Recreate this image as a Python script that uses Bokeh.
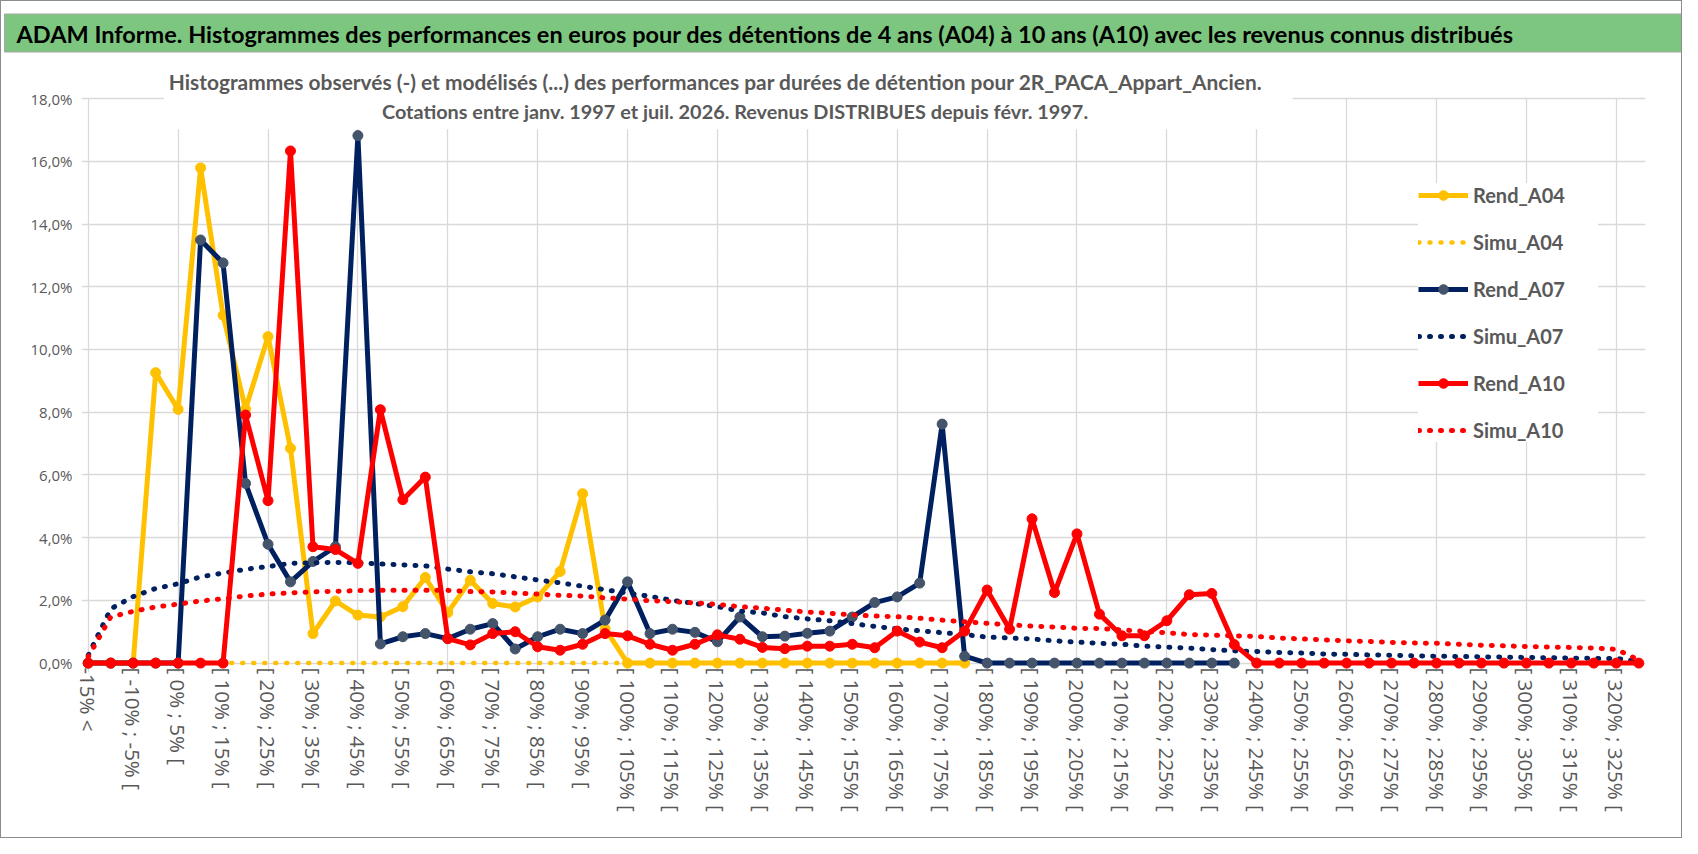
import numpy as np
from bokeh.plotting import figure
from bokeh.models import (FixedTicker, Legend, LegendItem, Label, Title,
                          ColumnDataSource, Range1d)
from bokeh.embed import file_html
from bokeh.resources import INLINE

TITLE = ("ADAM Informe. Histogrammes des performances en euros pour des détentions "
         "de 4 ans (A04) à 10 ans (A10) avec les revenus connus distribués")
SUB1 = ("Histogrammes observés (-) et modélisés (...)  des performances par durées "
        "de détention pour 2R_PACA_Appart_Ancien.")
SUB2 = "Cotations entre janv. 1997 et juil. 2026. Revenus DISTRIBUES depuis févr. 1997."

categories = [
    "-15% <", "[ -15% ; -10% [", "[ -10% ; -5% [", "[ -5% ; 0% [", "[ 0% ; 5% [",
    "[ 5% ; 10% [", "[ 10% ; 15% [", "[ 15% ; 20% [", "[ 20% ; 25% [", "[ 25% ; 30% [",
    "[ 30% ; 35% [", "[ 35% ; 40% [", "[ 40% ; 45% [", "[ 45% ; 50% [", "[ 50% ; 55% [",
    "[ 55% ; 60% [", "[ 60% ; 65% [", "[ 65% ; 70% [", "[ 70% ; 75% [", "[ 75% ; 80% [",
    "[ 80% ; 85% [", "[ 85% ; 90% [", "[ 90% ; 95% [", "[ 95% ; 100% [", "[ 100% ; 105% [",
    "[ 105% ; 110% [", "[ 110% ; 115% [", "[ 115% ; 120% [", "[ 120% ; 125% [", "[ 125% ; 130% [",
    "[ 130% ; 135% [", "[ 135% ; 140% [", "[ 140% ; 145% [", "[ 145% ; 150% [", "[ 150% ; 155% [",
    "[ 155% ; 160% [", "[ 160% ; 165% [", "[ 165% ; 170% [", "[ 170% ; 175% [", "[ 175% ; 180% [",
    "[ 180% ; 185% [", "[ 185% ; 190% [", "[ 190% ; 195% [", "[ 195% ; 200% [", "[ 200% ; 205% [",
    "[ 205% ; 210% [", "[ 210% ; 215% [", "[ 215% ; 220% [", "[ 220% ; 225% [", "[ 225% ; 230% [",
    "[ 230% ; 235% [", "[ 235% ; 240% [", "[ 240% ; 245% [", "[ 245% ; 250% [", "[ 250% ; 255% [",
    "[ 255% ; 260% [", "[ 260% ; 265% [", "[ 265% ; 270% [", "[ 270% ; 275% [", "[ 275% ; 280% [",
    "[ 280% ; 285% [", "[ 285% ; 290% [", "[ 290% ; 295% [", "[ 295% ; 300% [", "[ 300% ; 305% [",
    "[ 305% ; 310% [", "[ 310% ; 315% [", "[ 315% ; 320% [", "[ 320% ; 325% [", "[ 325% ; 330% [",
]

# values in %
rend_a04 = [0, 0, 0, 9.26, 8.09, 15.79, 11.09, 8.1, 10.41, 6.85,
            0.94, 1.98, 1.53, 1.47, 1.8, 2.73, 1.61, 2.64, 1.9, 1.79,
            2.11, 2.92, 5.4, 1.1, 0, 0, 0, 0, 0, 0,
            0, 0, 0, 0, 0, 0, 0, 0, 0, 0]
simu_a04 = [0, 0, 0, 0, 0, 0, 0, 0, 0, 0,
            0, 0, 0, 0, 0, 0, 0, 0, 0, 0,
            0, 0, 0, 0, 0, 0, 0, 0, 0, 0,
            0, 0, 0, 0, 0, 0, 0, 0, 0, 0]
rend_a07 = [0, 0, 0, 0, 0, 13.49, 12.76, 5.73, 3.79, 2.59,
            3.24, 3.71, 16.82, 0.61, 0.84, 0.94, 0.78, 1.08, 1.26, 0.45,
            0.84, 1.08, 0.94, 1.37, 2.59, 0.94, 1.08, 0.98, 0.68, 1.47,
            0.84, 0.86, 0.95, 1.02, 1.47, 1.93, 2.11, 2.55, 7.62, 0.22,
            0, 0, 0, 0, 0, 0, 0, 0, 0, 0,
            0, 0]
simu_a07 = [0.25, 1.73, 2.12, 2.38, 2.53, 2.75, 2.87, 2.99, 3.08, 3.18,
            3.2, 3.21, 3.2, 3.16, 3.13, 3.1, 3.0, 2.91, 2.85, 2.75,
            2.65, 2.56, 2.45, 2.34, 2.23, 2.13, 2.0, 1.9, 1.8, 1.66,
            1.6, 1.48, 1.41, 1.35, 1.26, 1.17, 1.09, 1.03, 0.97, 0.91,
            0.83, 0.8, 0.77, 0.71, 0.67, 0.63, 0.6, 0.54, 0.51, 0.48,
            0.43, 0.39, 0.37, 0.34, 0.32, 0.29, 0.28, 0.26, 0.25, 0.23,
            0.22, 0.21, 0.2, 0.19, 0.18, 0.17, 0.16, 0.15, 0.15, 0.05]
rend_a10 = [0, 0, 0, 0, 0, 0, 0, 7.91, 5.18, 16.33,
            3.71, 3.62, 3.18, 8.08, 5.21, 5.93, 0.78, 0.58, 0.94, 1.0,
            0.52, 0.41, 0.6, 0.94, 0.87, 0.6, 0.41, 0.6, 0.9, 0.76,
            0.5, 0.46, 0.54, 0.54, 0.6, 0.49, 1.02, 0.67, 0.49, 1.02,
            2.33, 1.08, 4.6, 2.25, 4.12, 1.56, 0.87, 0.87, 1.35, 2.18,
            2.22, 0.59, 0, 0, 0, 0, 0, 0, 0, 0,
            0, 0, 0, 0, 0, 0, 0, 0, 0, 0]
simu_a10 = [0.2, 1.47, 1.65, 1.79, 1.88, 1.98, 2.05, 2.14, 2.2, 2.24,
            2.27, 2.29, 2.31, 2.32, 2.32, 2.32, 2.32, 2.28, 2.27, 2.23,
            2.2, 2.16, 2.14, 2.08, 2.04, 1.99, 1.96, 1.92, 1.87, 1.8,
            1.75, 1.69, 1.63, 1.59, 1.54, 1.5, 1.48, 1.43, 1.37, 1.32,
            1.27, 1.22, 1.18, 1.15, 1.11, 1.1, 1.06, 1.01, 0.97, 0.91,
            0.89, 0.87, 0.85, 0.8, 0.77, 0.74, 0.71, 0.69, 0.66, 0.64,
            0.63, 0.6, 0.57, 0.55, 0.53, 0.51, 0.5, 0.48, 0.44, 0.1]

y_ticks = [0, 2, 4, 6, 8, 10, 12, 14, 16, 18]
y_tick_labels = ["0,0%", "2,0%", "4,0%", "6,0%", "8,0%", "10,0%", "12,0%",
                 "14,0%", "16,0%", "18,0%"]

YEL = "#FFC000"
NAVY = "#002060"
NAVY_MK = "#44546A"
RED = "#FF0000"
GRAY = "#595959"
GREEN = "#7dc67f"
FONT = "Lato"
AXFONT = "Open Sans"

n = len(categories)


def pad(v):
    a = np.full(n, np.nan)
    a[:len(v)] = v
    return a


src = ColumnDataSource(dict(
    x=np.arange(n),
    ra04=pad(rend_a04), sa04=pad(simu_a04),
    ra07=pad(rend_a07), sa07=pad(simu_a07),
    ra10=pad(rend_a10), sa10=pad(simu_a10),
))

p = figure(width=1682, height=838, x_range=Range1d(-0.3, 69.3), y_range=Range1d(-0.3, 19.31),
           toolbar_location=None, output_backend="svg",
           min_border_left=80, min_border_right=38, min_border_top=56, min_border_bottom=167)
p.outline_line_color = None
p.background_fill_color = "white"
p.border_fill_color = "white"
try:
    p.styles = {"border": "1px solid #8c8c8c"}
except Exception:
    pass

# green title bar
title = Title(text=TITLE, align="left", offset=-77, standoff=11,
              text_font=FONT, text_font_style="bold", text_font_size="23.5px",
              text_color="black", background_fill_color=GREEN,
              border_line_color="#a6a6a6")
try:
    title.padding = dict(left=12, right=208, top=6, bottom=4)
except Exception:
    pass
p.title = title

p.xgrid.ticker = FixedTicker(ticks=list(range(0, n, 4)))
p.ygrid.ticker = FixedTicker(ticks=y_ticks)
p.grid.grid_line_color = "#d9d9d9"
p.grid.grid_line_width = 1.3
try:
    p.xgrid.cross_bounds = (-0.3, 18)
except Exception:
    pass

p.xaxis.ticker = FixedTicker(ticks=list(range(0, n, 2)))
p.xaxis.major_label_overrides = {i: categories[i] for i in range(0, n, 2)}
p.xaxis.major_label_orientation = "vertical"
p.yaxis.ticker = FixedTicker(ticks=y_ticks)
p.yaxis.major_label_overrides = dict(zip(y_ticks, y_tick_labels))
for ax in (p.xaxis, p.yaxis):
    ax.axis_line_color = None
    ax.major_tick_line_color = None
    ax.minor_tick_line_color = None
    ax.major_tick_out = 0
    ax.major_tick_in = 0
    ax.major_label_text_font = AXFONT
    ax.major_label_text_color = GRAY
p.xaxis.major_label_text_font_size = "20.5px"
p.yaxis.major_label_text_font_size = "15px"
p.xaxis.major_label_standoff = -5
p.yaxis.major_label_standoff = 9

DOT = "1 10"
r1 = p.line("x", "ra04", source=src, line_color=YEL, line_width=5, line_join="round")
m1 = p.scatter("x", "ra04", source=src, size=10, fill_color=YEL, line_color=YEL)
r2 = p.line("x", "sa04", source=src, line_color=YEL, line_width=4.5, line_dash=DOT, line_cap="round")
r3 = p.line("x", "ra07", source=src, line_color=NAVY, line_width=5, line_join="round")
m3 = p.scatter("x", "ra07", source=src, size=10, fill_color=NAVY_MK, line_color=NAVY_MK)
r4 = p.line("x", "sa07", source=src, line_color=NAVY, line_width=5, line_dash=DOT, line_cap="round")
r5 = p.line("x", "ra10", source=src, line_color=RED, line_width=5, line_join="round")
m5 = p.scatter("x", "ra10", source=src, size=10, fill_color=RED, line_color=RED)
r6 = p.line("x", "sa10", source=src, line_color=RED, line_width=5, line_dash=DOT, line_cap="round")

# subtitle, white boxes hide the grid behind it like the original
sub1 = Label(x=28.48, y=18.55, text=SUB1, text_font=FONT, text_font_style="bold",
             text_font_size="20.9px", text_color=GRAY, text_align="center",
             text_baseline="middle", background_fill_color="white", background_fill_alpha=1.0)
sub2 = Label(x=28.45, y=17.5, text=SUB2, text_font=FONT, text_font_style="bold",
             text_font_size="19.85px", text_color=GRAY, text_align="center",
             text_baseline="middle", background_fill_color="white", background_fill_alpha=1.0)
try:
    sub1.padding = dict(left=5, right=25, top=8, bottom=8)
    sub2.padding = dict(left=215, right=200, top=0, bottom=6)
except Exception:
    pass
p.add_layout(sub1)
p.add_layout(sub2)

legend = Legend(items=[
    LegendItem(label="Rend_A04", renderers=[r1, m1]),
    LegendItem(label="Simu_A04", renderers=[r2]),
    LegendItem(label="Rend_A07", renderers=[r3, m3]),
    LegendItem(label="Simu_A07", renderers=[r4]),
    LegendItem(label="Rend_A10", renderers=[r5, m5]),
    LegendItem(label="Simu_A10", renderers=[r6]),
], location=(1337, 230), orientation="vertical",
    glyph_width=50, glyph_height=24, label_height=24, label_width=125,
    spacing=23, padding=20, margin=0, label_standoff=5,
    background_fill_color="white", background_fill_alpha=1.0, border_line_color=None,
    label_text_font=FONT, label_text_font_style="bold", label_text_font_size="20px",
    label_text_color=GRAY)
p.add_layout(legend)

open("out.html", "w").write(file_html(p, INLINE))
